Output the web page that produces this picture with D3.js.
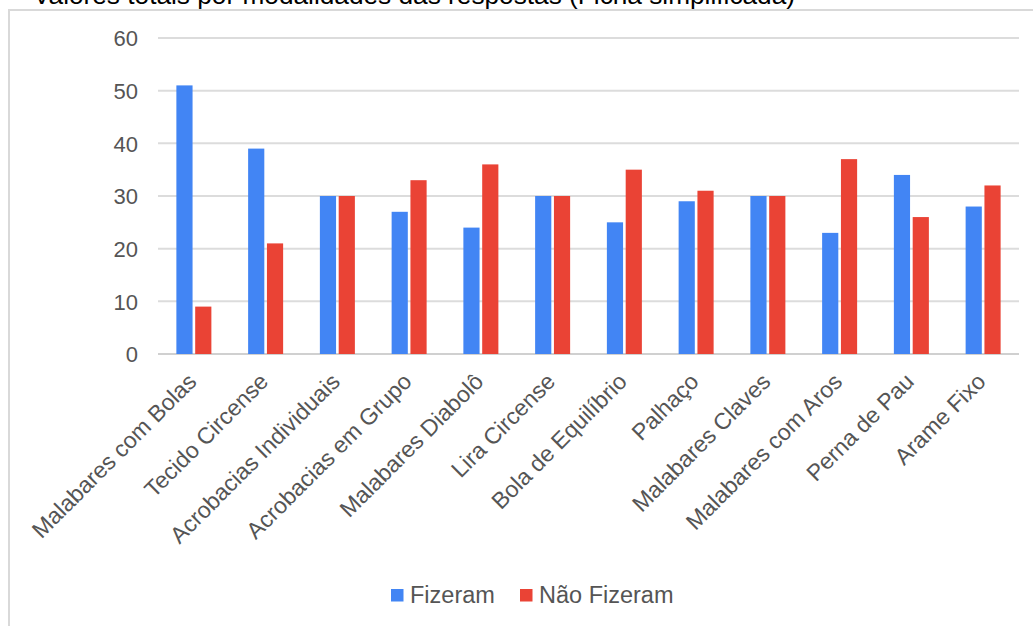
<!DOCTYPE html>
<html>
<head>
<meta charset="utf-8">
<script src="https://cdn.jsdelivr.net/npm/d3@7"></script>
<style>
  body { margin: 0; background: #fff; }
  text { font-family: "Liberation Sans", Arial, sans-serif; }
</style>
</head>
<body>
<svg id="chart" width="1033" height="626"></svg>
<script>
// data
const categories = ["Malabares com Bolas", "Tecido Circense", "Acrobacias Individuais",
  "Acrobacias em Grupo", "Malabares Diabolô", "Lira Circense", "Bola de Equilíbrio",
  "Palhaço", "Malabares Claves", "Malabares com Aros", "Perna de Pau", "Arame Fixo"];
const fizeram = [51, 39, 30, 27, 24, 30, 25, 29, 30, 23, 34, 28];
const naoFizeram = [9, 21, 30, 33, 36, 30, 35, 31, 30, 37, 26, 32];
const seriesNames = ["Fizeram", "Não Fizeram"];
const colors = ["#4285F4", "#EA4335"];
const yTicks = [0, 10, 20, 30, 40, 50, 60];
const title = "Valores totais por modalidades das respostas (Ficha simplificada)";

const rows = categories.map((c, i) => ({cat: c, values: [fizeram[i], naoFizeram[i]]}));

var svg = d3.select("#chart");

// title, cut off by the top of the image
svg.append("text")
    .attr("x", 33)
    .attr("y", 4)
    .attr("font-size", 25)
    .attr("textLength", 762)
    .attr("lengthAdjust", "spacingAndGlyphs")
    .attr("fill", "#000")
    .text(title);

// chart frame (only top and left edges visible)
svg.append("line")
    .attr("x1", 8).attr("x2", 1033).attr("y1", 10).attr("y2", 10)
    .attr("stroke", "#d9d9d9").attr("stroke-width", 2);
svg.append("line")
    .attr("x1", 9).attr("x2", 9).attr("y1", 10).attr("y2", 626)
    .attr("stroke", "#d9d9d9").attr("stroke-width", 2);

var margin = {left: 158, right: 14, top: 38};
var plotBottom = 354;
var width = 1033 - margin.left - margin.right;

var x = d3.scaleBand().domain(categories).range([margin.left, margin.left + width]);
var x1 = d3.scaleBand().domain([0, 1]).range([-17.5, 17.5]).paddingInner(0.14);
var y = d3.scaleLinear().domain([0, 60]).range([plotBottom, margin.top]);

// gridlines
svg.append("g")
  .selectAll("line")
  .data(yTicks)
  .enter().append("line")
    .attr("x1", margin.left)
    .attr("x2", margin.left + width)
    .attr("y1", d => y(d))
    .attr("y2", d => y(d))
    .attr("stroke", d => d === 0 ? "#d0d0d0" : "#dcdcdc")
    .attr("stroke-width", 2);

// y labels
var yAxis = d3.axisLeft(y).tickValues(yTicks).tickSize(0).tickPadding(0);
var yg = svg.append("g")
    .attr("transform", "translate(138,0)")
    .call(yAxis);
yg.select(".domain").remove();
yg.selectAll("text")
    .attr("font-size", 22)
    .attr("font-family", "Liberation Sans, Arial, sans-serif")
    .attr("fill", "#555")
    .attr("dy", "0.35em");

// bars
var groups = svg.append("g")
  .selectAll("g")
  .data(rows)
  .enter().append("g")
    .attr("transform", d => "translate(" + (x(d.cat) + x.bandwidth() / 2) + ",0)");

groups.selectAll("rect")
  .data(d => d.values)
  .enter().append("rect")
    .attr("x", (d, i) => x1(i))
    .attr("width", x1.bandwidth())
    .attr("y", d => y(d))
    .attr("height", d => plotBottom - y(d))
    .attr("fill", (d, i) => colors[i]);

// x labels, rotated
svg.append("g")
  .selectAll("text")
  .data(categories)
  .enter().append("text")
    .attr("transform", d => "translate(" + (x(d) + x.bandwidth() / 2 + 4) + ",383) rotate(-45)")
    .attr("text-anchor", "end")
    .attr("font-size", 23)
    .attr("fill", "#555")
    .text(d => d);

// legend
var legendX = [391, 520];
var legend = svg.append("g")
  .selectAll("g")
  .data(seriesNames)
  .enter().append("g")
    .attr("transform", (d, i) => "translate(" + legendX[i] + ",589)");
legend.append("rect")
    .attr("width", 12.5).attr("height", 12.5)
    .attr("fill", (d, i) => colors[i]);
legend.append("text")
    .attr("x", 19)
    .attr("y", 14)
    .attr("font-size", 23.5)
    .attr("fill", "#555")
    .text(d => d);
</script>
</body>
</html>
